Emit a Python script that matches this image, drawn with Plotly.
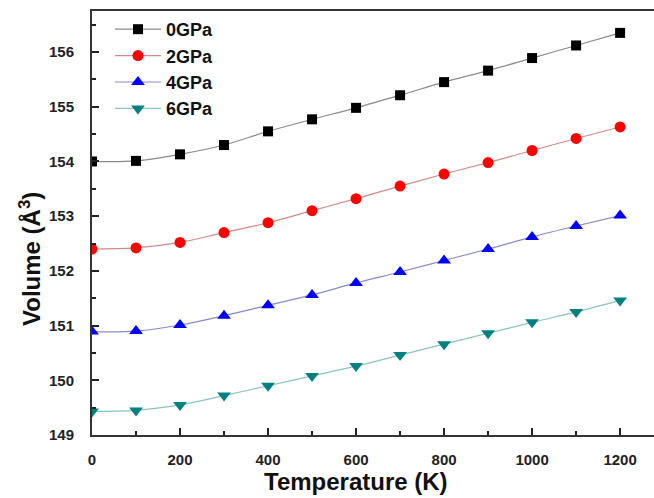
import plotly.graph_objects as go

temperature = [0, 100, 200, 300, 400, 500, 600, 700, 800, 900, 1000, 1100, 1200]
v_0gpa = [154.00, 154.01, 154.13, 154.30, 154.55, 154.77, 154.98, 155.21, 155.45, 155.66, 155.89, 156.12, 156.35]
v_2gpa = [152.40, 152.42, 152.52, 152.70, 152.88, 153.10, 153.32, 153.55, 153.77, 153.98, 154.20, 154.42, 154.63]
v_4gpa = [150.89, 150.90, 151.01, 151.18, 151.37, 151.56, 151.78, 151.98, 152.19, 152.40, 152.62, 152.82, 153.01]
v_6gpa = [149.43, 149.45, 149.55, 149.72, 149.90, 150.08, 150.26, 150.46, 150.66, 150.86, 151.06, 151.25, 151.46]

x_title = "Temperature (K)"
y_title = "Volume (Å<sup>3</sup>)"

series = [
    ("0GPa", v_0gpa, "square", "#000000", "#8a8a8a", 10),
    ("2GPa", v_2gpa, "circle", "#ff0000", "#d08a8a", 11),
    ("4GPa", v_4gpa, "triangle-up", "#0000ff", "#8a8ac8", 12),
    ("6GPa", v_6gpa, "triangle-down", "#008080", "#8ac4bc", 12),
]

fig = go.Figure()
for name, vals, sym, mcol, lcol, msize in series:
    fig.add_trace(go.Scatter(
        x=temperature, y=vals, name=name, mode="lines+markers",
        line=dict(color=lcol, width=1.2, shape="spline"),
        marker=dict(symbol=sym, color=mcol, size=msize, line=dict(width=0)),
    ))

font_family = "Liberation Sans, Arial, sans-serif"
title_font = dict(size=24, family=font_family, color="#111111", weight="bold")
fig.update_layout(
    width=654, height=498,
    margin=dict(l=92, r=0, t=11, b=63),
    plot_bgcolor="white", paper_bgcolor="white",
    font=dict(family=font_family, color="#222222"),
    showlegend=True,
    legend=dict(
        x=0.032, y=1.0, xanchor="left", yanchor="top",
        bgcolor="rgba(0,0,0,0)",
        font=dict(size=18, family=font_family, color="#111111", weight="bold"),
        itemwidth=46, tracegroupgap=0,
    ),
    xaxis=dict(
        range=[0, 1277],
        tickmode="array", tickvals=[0, 200, 400, 600, 800, 1000, 1200],
        ticks="inside", ticklen=7, tickwidth=1.5, tickcolor="#222222",
        minor=dict(tickvals=[100, 300, 500, 700, 900, 1100], ticks="inside", ticklen=4, tickwidth=1.5, tickcolor="#222222"),
        showline=True, linecolor="#333333", linewidth=2, mirror=True,
        showgrid=False, zeroline=False,
        tickfont=dict(size=15, family=font_family, color="#222222", weight="bold"),
        ticklabelstandoff=10,
    ),
    yaxis=dict(
        range=[149, 156.75],
        tickmode="array", tickvals=[149, 150, 151, 152, 153, 154, 155, 156],
        ticks="inside", ticklen=7, tickwidth=1.5, tickcolor="#222222",
        minor=dict(tickvals=[149.5, 150.5, 151.5, 152.5, 153.5, 154.5, 155.5, 156.5], ticks="inside", ticklen=4, tickwidth=1.5, tickcolor="#222222"),
        showline=True, linecolor="#333333", linewidth=2, mirror=False,
        showgrid=False, zeroline=False,
        tickfont=dict(size=15, family=font_family, color="#222222", weight="bold"),
        ticklabelstandoff=13,
    ),
    annotations=[
        dict(text=x_title, xref="paper", yref="paper", x=0.4698, y=-0.1108,
             xanchor="center", yanchor="middle", showarrow=False, font=title_font),
        dict(text=y_title, xref="paper", yref="paper", x=-0.1103, y=0.4151,
             xanchor="center", yanchor="middle", textangle=-90, showarrow=False, font=title_font),
    ],
)

fig.write_html("out.html")
